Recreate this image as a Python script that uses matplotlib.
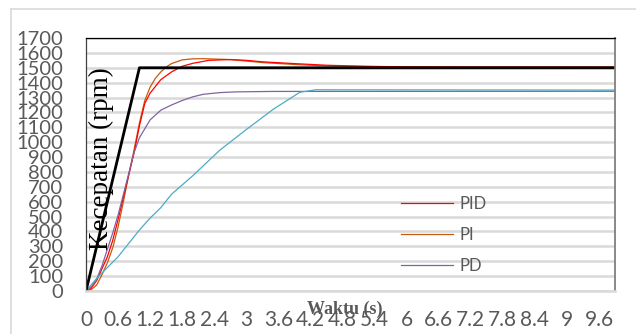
import matplotlib.pyplot as plt
from matplotlib.lines import Line2D

# setpoint ramp (black)
setpoint_t = [0, 1.0, 9.9]
setpoint_v = [0, 1500, 1500]

# PID (red)
pid_t = [0, 0.1, 0.2, 0.3, 0.4, 0.5, 0.6, 0.7, 0.8, 0.9, 1.0, 1.1, 1.2, 1.3, 1.4, 1.6,
         1.8, 2.0, 2.3, 2.7, 3.0, 3.3, 3.9, 4.5, 5.2, 6.0, 7.5, 9.9]
pid_v = [0, 20, 70, 150, 230, 340, 480, 630, 780, 930, 1110, 1260, 1330, 1375, 1420, 1472,
         1510, 1530, 1550, 1555, 1550, 1540, 1528, 1517, 1510, 1506, 1504, 1503]

# PI (brown)
pi_t = [0, 0.1, 0.2, 0.3, 0.4, 0.5, 0.6, 0.7, 0.8, 0.9, 1.0, 1.1, 1.2, 1.3, 1.4, 1.5,
        1.6, 1.8, 2.0, 2.2, 2.7, 3.3, 3.9, 4.5, 5.5, 7.0, 9.9]
pi_v = [0, 10, 40, 110, 190, 290, 430, 600, 780, 950, 1130, 1280, 1370, 1430, 1472, 1505,
        1528, 1553, 1560, 1561, 1555, 1535, 1522, 1512, 1507, 1505, 1505]

# PD (purple)
pd_t = [0, 0.1, 0.2, 0.3, 0.4, 0.5, 0.6, 0.7, 0.8, 0.9, 1.0, 1.2, 1.4, 1.6, 1.8, 2.0,
        2.2, 2.5, 2.8, 3.5, 9.9]
pd_v = [0, 30, 80, 170, 280, 390, 510, 650, 790, 930, 1030, 1150, 1215, 1250, 1280, 1305,
        1322, 1333, 1338, 1341, 1342]

# fourth controller (cyan, not in legend)
p_t = [0, 0.2, 0.6, 1.0, 1.2, 1.4, 1.6, 2.0, 2.5, 3.0, 3.5, 4.0, 4.3, 9.9]
p_v = [0, 85, 230, 410, 490, 560, 650, 775, 945, 1085, 1220, 1335, 1352, 1350]

x_ticks = [0, 0.6, 1.2, 1.8, 2.4, 3.0, 3.6, 4.2, 4.8, 5.4, 6.0, 6.6, 7.2, 7.8, 8.4, 9.0, 9.6]
x_tick_labels = ["0", "0.6", "1.2", "1.8", "2.4", "3", "3.6", "4.2", "4.8", "5.4",
                 "6", "6.6", "7.2", "7.8", "8.4", "9", "9.6"]
y_ticks = [0, 100, 200, 300, 400, 500, 600, 700, 800, 900, 1000, 1100, 1200, 1300,
           1400, 1500, 1600, 1700]

W, H = 636, 334
GRAY = '#595959'

fig = plt.figure(figsize=(W / 100, H / 100), dpi=100)
ax = fig.add_axes([86 / W, 1 - 291 / H, (615 - 86) / W, (291 - 38) / H])

ax.plot(pi_t, pi_v, color='#C55A11', lw=0.9, label='PI')
ax.plot(pid_t, pid_v, color='#FF0000', lw=0.9, label='PID')
ax.plot(pd_t, pd_v, color='#8064A2', lw=0.9, label='PD')
ax.plot(p_t, p_v, color='#4BACC6', lw=0.9)
ax.plot(setpoint_t, setpoint_v, color='black', lw=2.0)

ax.set_xlim(0, 9.9)
ax.set_ylim(0, 1700)
ax.set_xticks(x_ticks)
ax.set_xticklabels(x_tick_labels)
ax.set_yticks(y_ticks)
ax.tick_params(axis='x', length=0, pad=14, labelsize=15, labelcolor=GRAY)
ax.tick_params(axis='y', length=0, pad=16.5, labelsize=14.5, labelcolor=GRAY)
for lab in ax.get_xticklabels() + ax.get_yticklabels():
    lab.set_family('Lato')

ax.grid(axis='y', color='#D9D9D9', lw=1.8)
ax.set_axisbelow(True)
ax.spines['top'].set_color('black')
ax.spines['top'].set_linewidth(0.9)
ax.spines['left'].set_color('#404040')
ax.spines['left'].set_linewidth(0.9)
ax.spines['right'].set_color('#7F7F7F')
ax.spines['right'].set_linewidth(1.3)
ax.spines['bottom'].set_color('#D9D9D9')
ax.spines['bottom'].set_linewidth(1.8)

handles = [Line2D([], [], color='#FF0000', lw=0.9),
           Line2D([], [], color='#C55A11', lw=0.9),
           Line2D([], [], color='#8064A2', lw=0.9)]
leg = ax.legend(handles, ['PID', 'PI', 'PD'], loc='upper left',
                bbox_to_anchor=(401 / W, 1 - 196 / H), bbox_transform=fig.transFigure,
                frameon=False, borderpad=0, borderaxespad=0, handlelength=3.1,
                handletextpad=0.4, labelspacing=0.9,
                prop={'family': 'Lato', 'size': 12})
for txt in leg.get_texts():
    txt.set_color(GRAY)

fig.text(101 / W, 1 - 158.5 / H, 'Kecepatan (rpm)', rotation=90, ha='center', va='center',
         family='Liberation Serif', fontsize=19.5, color='black')
fig.text(345 / W, 1 - 309 / H, 'Waktu (s)', ha='center', va='center',
         family='Liberation Serif', fontweight='bold', fontsize=13, color=GRAY)

# chart frame (light gray outline on left and top)
fig.add_artist(Line2D([11 / W, 11 / W], [0, 1 - 9 / H], transform=fig.transFigure,
                      color='#D9D9D9', lw=1.2))
fig.add_artist(Line2D([11 / W, 1], [1 - 9 / H, 1 - 9 / H], transform=fig.transFigure,
                      color='#D9D9D9', lw=1.2))

fig.savefig('out.png', dpi=100)
